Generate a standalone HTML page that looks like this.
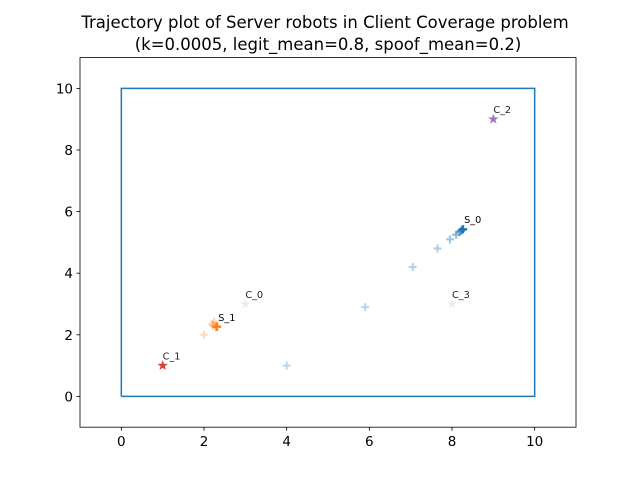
<!DOCTYPE html>
<html><head><meta charset="utf-8"><style>
body{margin:0;background:#fff;}
svg{display:block;font-family:"DejaVu Sans","Liberation Sans",sans-serif;}
</style></head><body>
<svg id="c" width="640" height="480" viewBox="0 0 640 480">
<rect width="640" height="480" fill="#fff"/>
<text x="325" y="28" text-anchor="middle" font-size="16.5">Trajectory plot of Server robots in Client Coverage problem</text>
<text x="328" y="50" text-anchor="middle" font-size="16.5">(k=0.0005, legit_mean=0.8, spoof_mean=0.2)</text>
<g id="plot"></g>
</svg>
<script>
const xTicks=[0,2,4,6,8,10];
const yTicks=[0,2,4,6,8,10];
const boundary=[[0,0],[10,0],[10,10],[0,10],[0,0]];
const clientNames=["C_0","C_1","C_2","C_3"];
const clientX=[3,1,9,8];
const clientY=[3,1,9,3];
const clientColors=["#2ca02c","#d62728","#9467bd","#8c564b"];
const clientAlpha=[0.12,0.9,0.9,0.12];
const s0X=[4,5.9,7.05,7.65,7.95,8.1,8.18,8.22,8.25,8.27];
const s0Y=[1,2.9,4.2,4.8,5.1,5.25,5.33,5.38,5.41,5.43];
const s1X=[2,2.2,2.25,2.22,2.28,2.3,2.31,2.32];
const s1Y=[2,2.35,2.42,2.3,2.27,2.26,2.26,2.26];
const ax={l:80,t:57.6,w:496,h:369.6,xmin:-1,xmax:11,ymin:-1,ymax:11};
const X=v=>ax.l+(v-ax.xmin)/(ax.xmax-ax.xmin)*ax.w;
const Y=v=>ax.t+ax.h-(v-ax.ymin)/(ax.ymax-ax.ymin)*ax.h;
const NS="http://www.w3.org/2000/svg";
const g=document.getElementById('plot');
function mk(t,a,p){const e=document.createElementNS(NS,t);for(const k in a)e.setAttribute(k,a[k]);(p||g).appendChild(e);return e;}
const bd=mk('polyline',{points:boundary.map(p=>X(p[0])+','+Y(p[1])).join(' '),fill:'none',stroke:'#1f77b4','stroke-width':1.5});


function traj(xs,ys,col,name,label){
  const n=xs.length;
  for(let i=0;i<n;i++){
    const a=0.3+0.7*Math.pow(i/(n-1),2);
    const cx=X(xs[i]),cy=Y(ys[i]);
    const m=mk('path',{d:`M${cx-4},${cy}H${cx+4}M${cx},${cy-4}V${cy+4}`,stroke:col,'stroke-width':2,'stroke-opacity':a});
    
    
  }
  const t=mk('text',{x:X(xs[n-1])+1,y:Y(ys[n-1])-6,'font-size':9.7});
  t.textContent=label;
  
  
}
traj(s0X,s0Y,'#1f77b4','server-0-trajectory','S_0');
traj(s1X,s1Y,'#ff7f0e','server-1-trajectory','S_1');
function star(cx,cy,r){let p=[];for(let i=0;i<10;i++){const rr=i%2?r*0.4:r;const a=-Math.PI/2+i*Math.PI/5;p.push((cx+rr*Math.cos(a)).toFixed(2)+','+(cy+rr*Math.sin(a)).toFixed(2));}return p.join(' ');}
clientNames.forEach((n,i)=>{
  const cx=X(clientX[i]),cy=Y(clientY[i]);
  const s=mk('polygon',{points:star(cx,cy,5.5),fill:clientColors[i],'fill-opacity':clientAlpha[i]});
  
  
  const t=mk('text',{x:cx,y:cy-6,'font-size':9.7,fill:'#222'});
  t.textContent=n;
  
  
});
const fr=mk('rect',{x:ax.l,y:ax.t,width:ax.w,height:ax.h,fill:'none',stroke:'#000','stroke-width':0.8});


xTicks.forEach(v=>{
  mk('line',{x1:X(v),x2:X(v),y1:ax.t+ax.h,y2:ax.t+ax.h+3.5,stroke:'#000','stroke-width':0.8});
  const t=mk('text',{x:X(v),y:ax.t+ax.h+19,'font-size':13.5,'text-anchor':'middle'});
  t.textContent=v;
  
  
});
yTicks.forEach(v=>{
  mk('line',{x1:ax.l-3.5,x2:ax.l,y1:Y(v),y2:Y(v),stroke:'#000','stroke-width':0.8});
  const t=mk('text',{x:ax.l-7,y:Y(v)+5,'font-size':13.5,'text-anchor':'end'});
  t.textContent=v;
  
  
});
</script>
</body></html>
